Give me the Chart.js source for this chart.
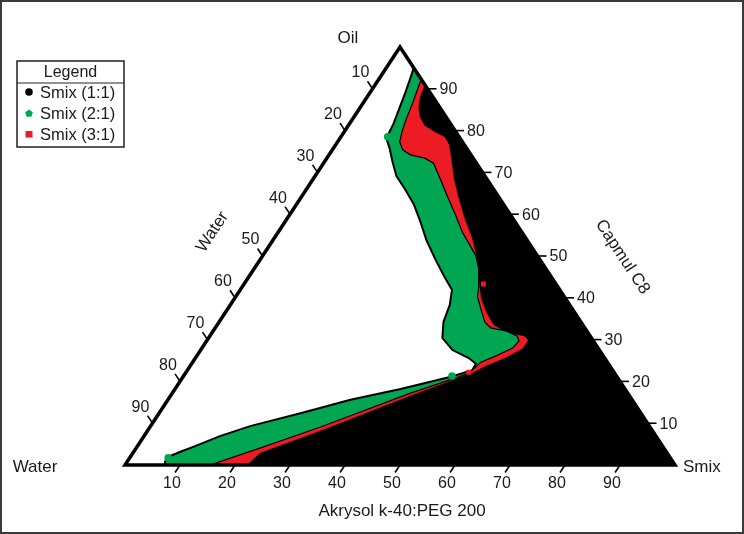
<!DOCTYPE html>
<html>
<head>
<meta charset="utf-8">
<script src="https://cdn.jsdelivr.net/npm/chart.js@4.4.1/dist/chart.umd.min.js"></script>
<style>
html,body{margin:0;padding:0;background:#fff;}
#wrap{width:744px;height:534px;position:relative;}
</style>
</head>
<body>
<div id="wrap"><canvas id="c" width="744" height="534"></canvas></div>
<script>
// ---------- text / categories ----------
const vertexNames = ['Oil', 'Water', 'Smix'];
const bottomTitle = 'Akrysol k-40:PEG 200';
const leftTitle = 'Water';
const rightTitle = 'Capmul C8';
const legendTitle = 'Legend';
const seriesNames = ['Smix (1:1)', 'Smix (2:1)', 'Smix (3:1)'];
const tickValues = [10, 20, 30, 40, 50, 60, 70, 80, 90];

// ---------- data: compositions in % (oil, smix); water = 100 - oil - smix ----------
// triangle vertices: Water, Oil, Smix, Water, Oil
const frameOil  = [0, 100, 0, 0, 100];
const frameSmix = [0, 0, 100, 0, 0];

// Smix 2:1 region boundary (green)
const smix21Oil  = [95.0, 92.6, 89.2, 85.4, 81.6, 79.2, 78.2, 75.8, 72.5, 69.1, 65.8, 62.4, 58.6, 53.8, 49.0, 45.0, 41.9, 38.3, 34.2, 30.4, 27.5, 25.6, 24.2, 22.7, 21.1, 18.2, 15.6, 12.4, 9.3, 6.9, 4.5, 3.1, 1.9, 0.7, 0, 0];
const smix21Smix = [5.0, 5.6, 6.4, 7.2, 8.0, 8.3, 8.4, 10.2, 12.4, 14.8, 18.1, 21.3, 24.3, 27.9, 32.0, 35.6, 38.5, 39.9, 40.8, 42.5, 45.8, 49.7, 51.7, 51.8, 48.7, 41.0, 33.2, 25.7, 18.1, 13.8, 10.5, 8.4, 6.8, 6.9, 7.5, 100];

// Smix 3:1 region boundary (red)
const smix31Oil  = [92.3, 89.7, 86.6, 83.0, 79.7, 77.3, 75.4, 74.2, 73.4, 72.2, 68.2, 63.9, 59.8, 55.7, 52.6, 50.0, 46.7, 42.6, 40.2, 37.1, 34.2, 32.8, 32.1, 30.9, 29.7, 28.0, 26.1, 24.6, 22.7, 21.8, 17.2, 9.1, 4.1, 0, 0];
const smix31Smix = [7.7, 8.3, 9.0, 9.7, 10.5, 11.3, 12.8, 14.8, 17.8, 20.0, 23.3, 26.8, 30.2, 33.5, 36.4, 38.8, 41.0, 43.0, 44.0, 46.2, 48.3, 50.1, 53.2, 55.8, 56.8, 56.5, 54.4, 52.4, 51.8, 51.4, 43.3, 31.0, 22.6, 15.5, 100];

// Smix 1:1 region boundary (black)
const smix11Oil  = [90.9, 88.3, 85.6, 83.3, 81.3, 79.7, 78.5, 76.6, 73.0, 68.2, 63.4, 58.6, 54.3, 50.2, 46.7, 42.6, 39.5, 36.4, 33.5, 32.3, 31.3, 30.9, 29.9, 27.8, 25.6, 23.7, 22.0, 16.5, 8.1, 2.9, 0, 0];
const smix11Smix = [9.1, 9.6, 10.6, 12.0, 13.8, 16.5, 18.9, 20.7, 22.9, 25.8, 29.1, 32.6, 36.0, 38.8, 41.0, 43.2, 45.1, 47.6, 50.3, 52.6, 55.3, 57.1, 58.4, 58.4, 56.4, 53.8, 52.2, 43.6, 31.4, 23.2, 22.2, 100];

// single observed points
const green21PtsOil  = [78.5, 1.7, 21.3];
const green21PtsSmix = [8.5, 7.0, 48.8];
const red31PtsOil    = [43.3, 22.2];
const red31PtsSmix   = [43.5, 51.4];

// ---------- helpers ----------
const tern = (oil, smix) => ({ x: smix + oil / 2, y: oil });
const toPts = (oils, smixes) => oils.map((o, i) => tern(o, smixes[i]));

const FONT = '"Liberation Sans", Arial, Helvetica, sans-serif';
const GREEN = '#00a651';
const RED = '#ed1c24';

const polyFillPlugin = {
  id: 'polyFill',
  beforeDatasetDraw(chart, args) {
    const ds = chart.data.datasets[args.index];
    if (!ds.polyFill) return;
    const pts = args.meta.data;
    const ctx = chart.ctx;
    ctx.save();
    ctx.beginPath();
    pts.forEach((p, i) => (i ? ctx.lineTo(p.x, p.y) : ctx.moveTo(p.x, p.y)));
    ctx.closePath();
    ctx.fillStyle = ds.polyFill;
    ctx.fill();
    ctx.restore();
  }
};

const ternaryAxesPlugin = {
  id: 'ternaryAxes',
  afterDraw(chart) {
    const ctx = chart.ctx, xs = chart.scales.x, ys = chart.scales.y;
    const P = (oil, smix) => { const t = tern(oil, smix); return [xs.getPixelForValue(t.x), ys.getPixelForValue(t.y)]; };
    const W = P(0, 0), O = P(100, 0), S = P(0, 100);
    const unit = (a, b) => { const dx = b[0] - a[0], dy = b[1] - a[1], l = Math.hypot(dx, dy); return [dx / l, dy / l]; };
    const dl = unit(S, O);
    const db = unit(O, W);
    const L = 9;
    const seg = (a, b) => { ctx.beginPath(); ctx.moveTo(a[0], a[1]); ctx.lineTo(b[0], b[1]); ctx.stroke(); };

    ctx.save();
    ctx.strokeStyle = '#000';
    ctx.lineWidth = 1.6;
    ctx.fillStyle = '#1a1a1a';
    ctx.font = '16px ' + FONT;
    ctx.textBaseline = 'middle';
    tickValues.forEach(t => {
      // left axis (Water)
      let p = P(100 - t, 0);
      seg(p, [p[0] + dl[0] * L, p[1] + dl[1] * L]);
      ctx.textAlign = 'center';
      ctx.fillText(String(t), p[0] - 12, p[1] - 16);
      // bottom axis (Smix)
      p = P(0, t);
      seg(p, [p[0] + db[0] * L, p[1] + db[1] * L]);
      ctx.fillText(String(t), p[0] - 8, p[1] + 19);
      // right axis (Oil)
      p = P(t, 100 - t);
      seg(p, [p[0] + L, p[1]]);
      ctx.textAlign = 'left';
      ctx.fillText(String(t), p[0] + 12, p[1] + 1);
    });

    // vertex names and axis titles
    ctx.font = '17px ' + FONT;
    ctx.textAlign = 'center';
    ctx.fillText(vertexNames[0], O[0] - 52, O[1] - 9);
    ctx.fillText(vertexNames[1], W[0] - 90, W[1] + 2);
    ctx.textAlign = 'left';
    ctx.fillText(vertexNames[2], S[0] + 8, S[1] + 2);
    ctx.textAlign = 'center';
    ctx.fillText(bottomTitle, (W[0] + S[0]) / 2 + 2, W[1] + 46);

    const angL = Math.atan2(O[1] - W[1], O[0] - W[0]);
    const angR = Math.atan2(S[1] - O[1], S[0] - O[0]);
    ctx.save();
    ctx.translate((W[0] + O[0]) / 2 - 50, (W[1] + O[1]) / 2 - 24);
    ctx.rotate(angL);
    ctx.fillText(leftTitle, 0, 0);
    ctx.restore();
    ctx.save();
    ctx.translate((O[0] + S[0]) / 2 + 85, (O[1] + S[1]) / 2 + 1);
    ctx.rotate(angR);
    ctx.fillText(rightTitle, 0, 0);
    ctx.restore();

    // legend
    const bx = 17, by = 61, bw = 107, bh = 86;
    ctx.fillStyle = '#fff';
    ctx.fillRect(bx, by, bw, bh);
    ctx.strokeStyle = '#222';
    ctx.lineWidth = 1.5;
    ctx.strokeRect(bx, by, bw, bh);
    ctx.lineWidth = 1;
    seg([bx, by + 22], [bx + bw, by + 22]);
    ctx.fillStyle = '#1a1a1a';
    ctx.font = '16px ' + FONT;
    ctx.textAlign = 'center';
    ctx.fillText(legendTitle, bx + bw / 2, by + 11.5);
    ctx.font = '16.5px ' + FONT;
    ctx.textAlign = 'left';
    const rows = [by + 31, by + 52, by + 73];
    const mcol = ['#000', GREEN, RED];
    rows.forEach((ry, i) => {
      ctx.fillStyle = mcol[i];
      const mx = bx + 12;
      if (i === 0) { ctx.beginPath(); ctx.arc(mx, ry, 3.8, 0, Math.PI * 2); ctx.fill(); }
      else if (i === 1) {
        ctx.beginPath();
        for (let k = 0; k < 5; k++) {
          const a = -Math.PI / 2 + k * 2 * Math.PI / 5;
          const px = mx + 4 * Math.cos(a), py = ry + 0.5 + 4 * Math.sin(a);
          k ? ctx.lineTo(px, py) : ctx.moveTo(px, py);
        }
        ctx.closePath(); ctx.fill();
      } else { ctx.fillRect(mx - 3.5, ry - 3, 7, 6.5); }
      ctx.fillStyle = '#1a1a1a';
      ctx.fillText(seriesNames[i], bx + 23, ry + 1);
    });

    // outer frame
    ctx.strokeStyle = '#3a3a3a';
    ctx.lineWidth = 2;
    ctx.strokeRect(1, 1, chart.width - 2, chart.height - 2);
    ctx.restore();
  }
};

const regionStyle = { showLine: true, pointRadius: 0, pointHoverRadius: 0, pointHitRadius: 0, tension: 0, fill: false, clip: false };

new Chart(document.getElementById('c'), {
  type: 'scatter',
  data: {
    datasets: [
      { label: 'frame', data: toPts(frameOil, frameSmix), ...regionStyle,
        borderColor: '#000', borderWidth: 3.5, borderJoinStyle: 'miter', order: 0 },
      { label: seriesNames[1] + ' points', data: toPts(green21PtsOil, green21PtsSmix), showLine: false,
        pointStyle: 'circle', pointRadius: 3.8, backgroundColor: GREEN, borderColor: GREEN, borderWidth: 0, clip: false, order: 0.5 },
      { label: seriesNames[2] + ' points', data: toPts(red31PtsOil, red31PtsSmix), showLine: false,
        pointStyle: 'rect', pointRadius: 3.5, backgroundColor: RED, borderColor: RED, borderWidth: 0, clip: false, order: 0.5 },
      { label: seriesNames[0], data: toPts(smix11Oil, smix11Smix), ...regionStyle,
        polyFill: '#000', borderColor: '#000', borderWidth: 0.5, order: 1 },
      { label: seriesNames[2], data: toPts(smix31Oil, smix31Smix), ...regionStyle,
        polyFill: RED, borderColor: '#000', borderWidth: 1.2, order: 2 },
      { label: seriesNames[1], data: toPts(smix21Oil, smix21Smix), ...regionStyle,
        polyFill: GREEN, borderColor: '#000', borderWidth: 2, order: 3 }
    ]
  },
  options: {
    responsive: false,
    animation: false,
    layout: { padding: { left: 125, right: 69, top: 47, bottom: 69 } },
    plugins: { legend: { display: false }, tooltip: { enabled: false } },
    events: [],
    scales: {
      x: { type: 'linear', min: 0, max: 100, display: false },
      y: { type: 'linear', min: 0, max: 100, display: false }
    }
  },
  plugins: [polyFillPlugin, ternaryAxesPlugin]
});
</script>
</body>
</html>
